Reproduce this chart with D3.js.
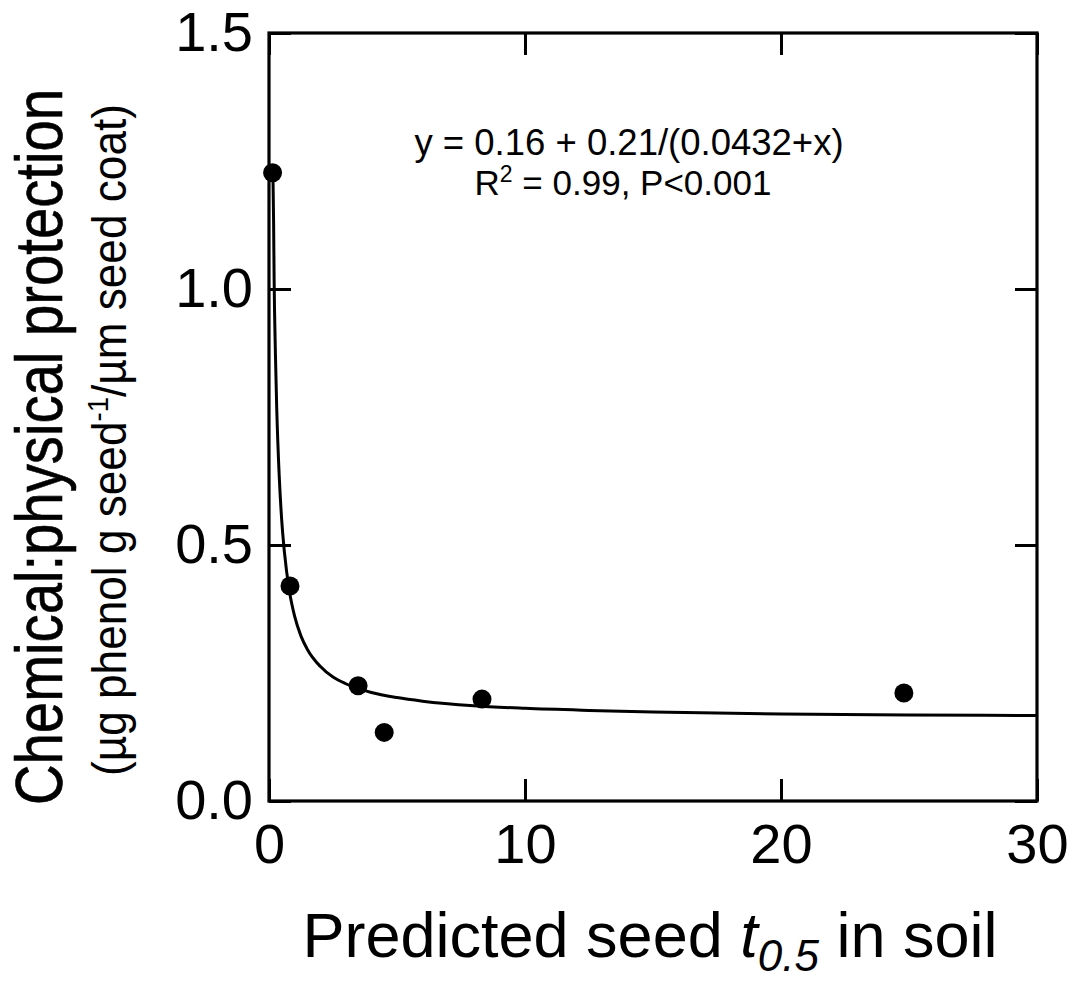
<!DOCTYPE html>
<html>
<head>
<meta charset="utf-8">
<script src="https://cdn.jsdelivr.net/npm/d3@7"></script>
<style>
  html, body { margin: 0; padding: 0; background: #fff; }
  svg { display: block; }
  text { font-family: "Liberation Sans", Arial, sans-serif; fill: #000; }
</style>
</head>
<body>
<svg id="chart" width="1072" height="983"></svg>
<script>
// ---- data ----
const pointX = [0.14, 0.82, 3.48, 4.5, 8.32, 24.8];
const pointY = [1.227, 0.42, 0.225, 0.134, 0.199, 0.211];

// fitted curve
const fitX = [0.155, 0.18, 0.2, 0.25, 0.3, 0.4, 0.5, 0.6, 0.8, 1.0, 1.25, 1.5, 2.0, 2.5, 3.0, 4.0, 5.0, 6.0, 8.0, 10, 12.5, 15, 20, 25, 30];
const fitY = [1.22, 1.13, 1.02, 0.875, 0.77, 0.634, 0.546, 0.487, 0.409, 0.361, 0.322, 0.296, 0.263, 0.242, 0.229, 0.212, 0.202, 0.195, 0.186, 0.181, 0.177, 0.174, 0.170, 0.168, 0.167];

const xTicks = [0, 10, 20, 30];
const yTicks = [0, 0.5, 1.0, 1.5];

const eqLine1 = "y = 0.16 + 0.21/(0.0432+x)";
const eqLine2a = "R";
const eqLine2sup = "2";
const eqLine2b = " = 0.99, P<0.001";

// ---- layout ----
const svg = d3.select("#chart");
const pL = 269, pR = 1037, pT = 33, pB = 801;
const x = d3.scaleLinear().domain([0, 30]).range([pL, pR]);
const y = d3.scaleLinear().domain([0, 1.5]).range([pB, pT]);
const tickLen = 22;
const sw = 3.2;

// axes
const gB = svg.append("g").attr("transform", `translate(0,${pB})`)
  .call(d3.axisBottom(x).tickValues(xTicks).tickSizeInner(-tickLen).tickSizeOuter(0).tickPadding(22).tickFormat(d3.format("d")));
const gL = svg.append("g").attr("transform", `translate(${pL},0)`)
  .call(d3.axisLeft(y).tickValues(yTicks).tickSizeInner(-tickLen).tickSizeOuter(0).tickPadding(16).tickFormat(d3.format(".1f")));
const gT = svg.append("g").attr("transform", `translate(0,${pT})`)
  .call(d3.axisTop(x).tickValues(xTicks).tickSizeInner(-tickLen).tickSizeOuter(0).tickFormat(""));
const gR = svg.append("g").attr("transform", `translate(${pR},0)`)
  .call(d3.axisRight(y).tickValues(yTicks).tickSizeInner(-tickLen).tickSizeOuter(0).tickFormat(""));

[gB, gL, gT, gR].forEach(g => {
  g.select(".domain").remove();
  g.selectAll(".tick line").attr("stroke", "#000").attr("stroke-width", 3);
  g.selectAll(".tick text").attr("font-size", 56).attr("font-family", "Liberation Sans, Arial, sans-serif").attr("fill", "#000");
});

// frame
svg.append("rect")
  .attr("x", pL).attr("y", pT)
  .attr("width", pR - pL).attr("height", pB - pT)
  .attr("fill", "none").attr("stroke", "#000").attr("stroke-width", sw);

// fitted curve
const fitData = fitX.map((d, i) => [d, fitY[i]]);
svg.append("path")
  .datum(fitData)
  .attr("fill", "none").attr("stroke", "#000").attr("stroke-width", 3)
  .attr("d", d3.line().x(d => x(d[0])).y(d => y(d[1])).curve(d3.curveMonotoneX));

// points
svg.selectAll("circle.pt")
  .data(pointX.map((d, i) => [d, pointY[i]]))
  .join("circle").attr("class", "pt")
  .attr("cx", d => x(d[0])).attr("cy", d => y(d[1]))
  .attr("r", 9.5).attr("fill", "#000");

// equation text
svg.append("text").attr("x", 629).attr("y", 155).attr("text-anchor", "middle")
  .attr("font-size", 36.5).text(eqLine1);
const t2 = svg.append("text").attr("x", 623).attr("y", 195).attr("text-anchor", "middle").attr("font-size", 35);
t2.append("tspan").text(eqLine2a);
t2.append("tspan").attr("font-size", 23).attr("dy", -13).text(eqLine2sup);
t2.append("tspan").attr("dy", 13).text(eqLine2b);

// x axis title
const xt = svg.append("text").attr("x", 650).attr("y", 957).attr("text-anchor", "middle").attr("font-size", 63);
xt.append("tspan").text("Predicted seed ");
xt.append("tspan").attr("font-style", "italic").text("t");
xt.append("tspan").attr("font-style", "italic").attr("font-size", 44).attr("dy", 14).text("0.5");
xt.append("tspan").attr("dy", -14).text(" in soil");

// y axis titles (rotated, slightly condensed)
svg.append("text")
  .attr("transform", "translate(62,447) rotate(-90) scale(0.84,1)")
  .attr("text-anchor", "middle").attr("font-size", 67)
  .attr("stroke", "#000").attr("stroke-width", 0.6)
  .text("Chemical:physical protection");

const ys = svg.append("text")
  .attr("transform", "translate(126,440) rotate(-90) scale(0.92,1)")
  .attr("text-anchor", "middle").attr("font-size", 48);
ys.append("tspan").text("(\u00b5g phenol g seed");
ys.append("tspan").attr("font-size", 30).attr("dy", -18).text("-1");
ys.append("tspan").attr("dy", 18).text("/\u00b5m seed coat)");
</script>
</body>
</html>
